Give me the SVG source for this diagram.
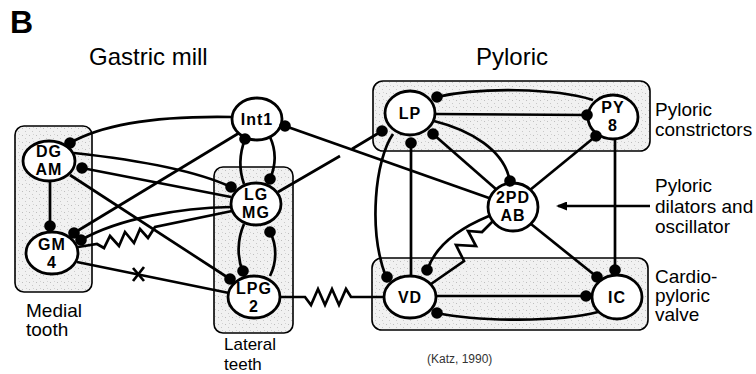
<svg xmlns="http://www.w3.org/2000/svg" width="756" height="374" viewBox="0 0 756 374">
<style>
.box{fill:url(#stip);stroke:#000;stroke-width:1.6}
.node{fill:#fff;stroke:#000;stroke-width:2.8}
.nt{font-family:"Liberation Sans",Arial,sans-serif;font-weight:bold;font-size:16px;text-anchor:middle;letter-spacing:1px;fill:#000}
.lbl{font-family:"Liberation Sans",Arial,sans-serif;font-size:19px;fill:#000}
.lbs{font-family:"Liberation Sans",Arial,sans-serif;font-size:17px;fill:#000}
.ttl{font-family:"Liberation Sans",Arial,sans-serif;font-size:24px;fill:#000}
.ln{fill:none;stroke:#000;stroke-width:2.7;stroke-linejoin:miter}
.dot{fill:#000}
</style>
<defs>
<pattern id="stip" width="7" height="7" patternUnits="userSpaceOnUse">
<rect width="7" height="7" fill="#f1f1f1"/>
<rect x="1" y="2" width="1" height="1" fill="#bdbdbd"/>
<rect x="4" y="5" width="1" height="1" fill="#c8c8c8"/>
<rect x="5" y="1" width="1" height="1" fill="#d2d2d2"/>
</pattern>
<marker id="arr" markerWidth="11" markerHeight="9" refX="9" refY="4.5" orient="auto" markerUnits="userSpaceOnUse">
<path d="M0,0 L11,4.5 L0,9 Z" fill="#000"/>
</marker>
<circle id="syn" r="5.8"/>
</defs>
<rect width="756" height="374" fill="#fff"/>

<text x="10" y="33" font-family="Liberation Sans,Arial,sans-serif" font-weight="bold" font-size="32">B</text>
<text class="ttl" x="89" y="65">Gastric mill</text>
<text class="ttl" x="476" y="65">Pyloric</text>

<g id="boxes">
<rect id="medial-box" class="box" x="15" y="126" width="77" height="166" rx="9"/>
<rect id="lateral-box" class="box" x="214" y="167" width="79" height="166" rx="9"/>
<rect id="constrictor-box" class="box" x="373" y="81" width="277" height="70" rx="10"/>
<rect id="valve-box" class="box" x="372" y="258" width="276" height="72" rx="10"/>
</g>

<g id="connectors" class="ln">
<path d="M233,117 C180,116 110,120 70,143"/>
<path d="M239,133 L74,233"/>
<path d="M74,153 C120,158 190,168 231,187"/>
<path d="M231,197 L82,168"/>
<path d="M70,175 L230,279"/>
<path d="M50,181 L50,226"/>
<path d="M231,207 C180,208 120,218 81,240"/>
<path d="M232,211 L155,227 L148,238 L140,229 L134,243 L125,232 L119,246 L110,236 L104,248 L97,244 L78,247"/>
<path d="M77,262 L229,293"/>
<path d="M133,268 L144,281 M144,267 L133,281"/>
<path d="M245,139 C239,155 239,170 244,184"/>
<path d="M270,137 C276,150 276,165 270,179"/>
<path d="M244,224 C237,240 237,258 243,272"/>
<path d="M270,276 C277,262 277,245 270,232"/>
<path d="M280,297 H305 L311,305 L318,289 L325,305 L332,289 L339,305 L346,289 L351,297 H384"/>
<path d="M278,192 L340,156 M352,149 L382,131"/>
<path d="M285,126 L489,198"/>
<path d="M437,97 C480,87 555,88 593,100"/>
<path d="M435,114 L588,115"/>
<path d="M434,121 C470,130 505,150 510,182"/>
<path d="M497,190 L433,134"/>
<path d="M530,190 L596,136"/>
<path d="M615,139 L615,272"/>
<path d="M411,143 L411,275"/>
<path d="M393,134 C375,160 368,230 386,277"/>
<path d="M489,216 C460,228 435,245 427,271"/>
<path d="M494,220 L482,232 L468,231 L476,246 L456,245 L464,261 L431,284"/>
<path d="M531,224 L597,277"/>
<path d="M436,296 L586,296"/>
<path d="M598,312 C560,322 480,322 437,313"/>
<path d="M650,206 L558,206" marker-end="url(#arr)"/>
</g>

<g id="node-int1"><ellipse class="node" cx="257" cy="119" rx="25" ry="21"/><text class="nt" x="257" y="125">Int1</text></g>
<g id="node-dgam"><ellipse class="node" cx="49" cy="161" rx="26" ry="20"/><text class="nt" x="49" y="157">DG</text><text class="nt" x="49" y="175">AM</text></g>
<g id="node-gm4"><ellipse class="node" cx="52" cy="253" rx="26" ry="21"/><text class="nt" x="52" y="250">GM</text><text class="nt" x="52" y="268">4</text></g>
<g id="node-lgmg"><ellipse class="node" cx="256" cy="204" rx="25" ry="21"/><text class="nt" x="256" y="200">LG</text><text class="nt" x="256" y="218">MG</text></g>
<g id="node-lpg2"><ellipse class="node" cx="254" cy="297" rx="26" ry="21"/><text class="nt" x="254" y="294">LPG</text><text class="nt" x="254" y="312">2</text></g>
<g id="node-lp"><ellipse class="node" cx="410" cy="113" rx="25" ry="22"/><text class="nt" x="410" y="119">LP</text></g>
<g id="node-py8"><ellipse class="node" cx="613" cy="117" rx="25" ry="22"/><text class="nt" x="613" y="113">PY</text><text class="nt" x="613" y="131">8</text></g>
<g id="node-2pdab"><ellipse class="node" cx="513" cy="207" rx="25" ry="24"/><text class="nt" x="513" y="203">2PD</text><text class="nt" x="513" y="221">AB</text></g>
<g id="node-vd"><ellipse class="node" cx="410" cy="297" rx="26" ry="21"/><text class="nt" x="410" y="303">VD</text></g>
<g id="node-ic"><ellipse class="node" cx="617" cy="297" rx="25" ry="22"/><text class="nt" x="617" y="303">IC</text></g>

<g id="synapses" class="dot">
<use href="#syn" x="70" y="143"/>
<use href="#syn" x="74" y="233"/>
<use href="#syn" x="231" y="187"/>
<use href="#syn" x="82" y="168"/>
<use href="#syn" x="230" y="279"/>
<use href="#syn" x="50" y="226"/>
<use href="#syn" x="81" y="240"/>
<use href="#syn" x="245" y="139"/>
<use href="#syn" x="270" y="179"/>
<use href="#syn" x="243" y="271"/>
<use href="#syn" x="270" y="232"/>
<use href="#syn" x="382" y="131"/>
<use href="#syn" x="285" y="126"/>
<use href="#syn" x="437" y="97"/>
<use href="#syn" x="587" y="115"/>
<use href="#syn" x="510" y="181"/>
<use href="#syn" x="433" y="134"/>
<use href="#syn" x="596" y="136"/>
<use href="#syn" x="615" y="270"/>
<use href="#syn" x="411" y="143"/>
<use href="#syn" x="387" y="277"/>
<use href="#syn" x="427" y="270"/>
<use href="#syn" x="597" y="277"/>
<use href="#syn" x="586" y="296"/>
<use href="#syn" x="437" y="313"/>
</g>

<g id="labels">
<text class="lbl" x="26" y="317">Medial</text>
<text class="lbl" x="26" y="336">tooth</text>
<text class="lbs" x="224" y="350">Lateral</text>
<text class="lbs" x="224" y="370">teeth</text>
<text class="lbl" x="655" y="116">Pyloric</text>
<text class="lbl" x="655" y="136">constrictors</text>
<text class="lbl" x="655" y="192">Pyloric</text>
<text class="lbl" x="655" y="213">dilators and</text>
<text class="lbl" x="655" y="233">oscillator</text>
<text class="lbl" x="655" y="283">Cardio-</text>
<text class="lbl" x="655" y="302">pyloric</text>
<text class="lbl" x="655" y="321">valve</text>
<text x="427" y="363" font-family="Liberation Sans,Arial,sans-serif" font-size="12" fill="#333">(Katz, 1990)</text>
</g>
</svg>
